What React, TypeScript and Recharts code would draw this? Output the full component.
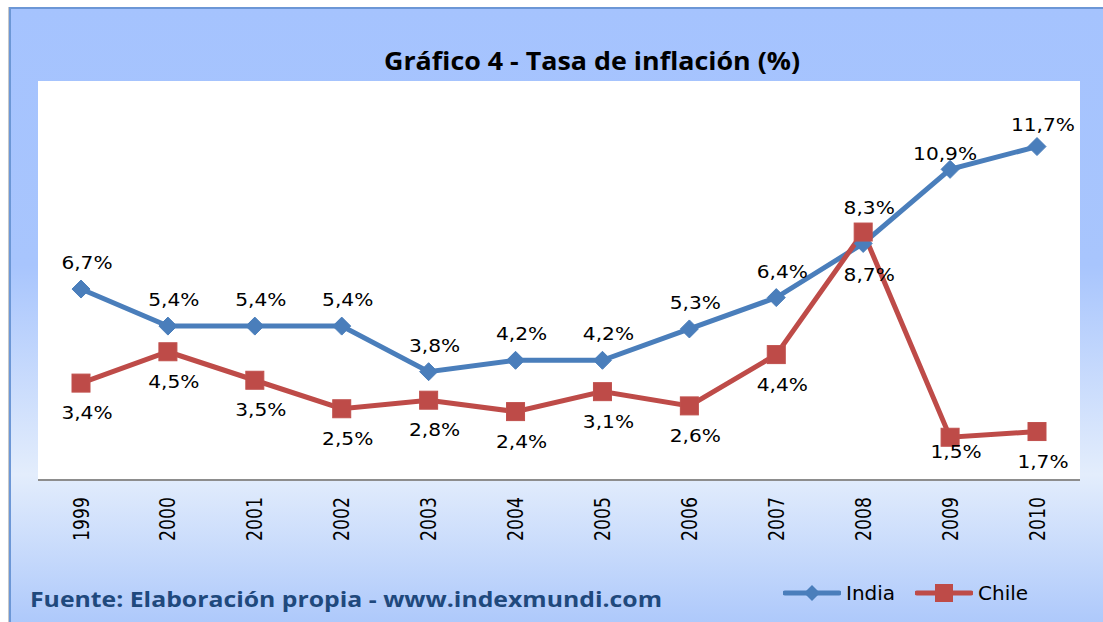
import React from 'react';
import { CartesianGrid, LabelList, Legend, Line, LineChart, XAxis, YAxis } from 'recharts';

const years = ['1999', '2000', '2001', '2002', '2003', '2004', '2005', '2006', '2007', '2008', '2009', '2010'];
const india = [6.7, 5.4, 5.4, 5.4, 3.8, 4.2, 4.2, 5.3, 6.4, 8.3, 10.9, 11.7];
const chile = [3.4, 4.5, 3.5, 2.5, 2.8, 2.4, 3.1, 2.6, 4.4, 8.7, 1.5, 1.7];

const data = years.map((year, i) => ({ year, india: india[i], chile: chile[i] }));

const BLUE = '#4a7ebb';
const RED = '#be4b48';
const FONT = '"DejaVu Sans", Verdana, sans-serif';

const fmt = (v: number) => `${v.toFixed(1).replace('.', ',')}%`;

const diamondPath = (cx: number, cy: number, r: number) =>
  `M${cx},${cy - r} L${cx + r},${cy} L${cx},${cy + r} L${cx - r},${cy} Z`;

const IndiaDot = (p: any) => (
  <path key={`in-${p.index}`} d={diamondPath(p.cx, p.cy, 9)} fill={BLUE} stroke={BLUE} strokeWidth={1} />
);
const ChileDot = (p: any) => (
  <rect key={`ch-${p.index}`} x={p.cx - 9} y={p.cy - 9} width={18} height={18} fill={RED} stroke="#c0504d" strokeWidth={1} />
);

// label offsets roughly follow the Excel placement (India above, Chile below)
function makeLabel(side: 'above' | 'below') {
  return (p: any) => {
    const { x, y, value, index } = p;
    let dx = 6;
    let dy = side === 'above' ? -26 : 30;
    if (side === 'above' && index === 9) dy = -36;
    if (side === 'above' && index === 10) { dy = -15; dx = -5; }
    if (side === 'above' && index === 11) dy = -22;
    if (side === 'below' && index === 9) dy = 43;
    if (side === 'below' && index === 10) dy = 15;
    return (
      <text
        key={`${side}-${index}`}
        transform={`translate(${x + dx},${y + dy}) scale(1.12,1)`}
        textAnchor="middle"
        dominantBaseline="central"
        fontSize={18}
        fontFamily={FONT}
        fill="#000"
      >
        {fmt(value)}
      </text>
    );
  };
}

const YearTick = (p: any) => {
  const { x, y, payload } = p;
  return (
    <g transform={`translate(${x},${y + 9}) rotate(-90)`}>
      <text
        x={0}
        y={0}
        textAnchor="end"
        dominantBaseline="central"
        fontSize={22}
        fontFamily={FONT}
        textLength={44}
        lengthAdjust="spacingAndGlyphs"
        fill="#000"
      >
        {payload.value}
      </text>
    </g>
  );
};

const LegendContent = (props: any) => {
  const order = ['india', 'chile'];
  const items = [...(props.payload || [])].sort(
    (a: any, b: any) => order.indexOf(a.dataKey) - order.indexOf(b.dataKey)
  );
  return (
    <div style={{ display: 'flex', alignItems: 'center', fontFamily: FONT, fontSize: 20, color: '#000' }}>
      {items.map((it: any) => {
        const isIndia = it.dataKey === 'india';
        return (
          <div key={it.value} style={{ display: 'flex', alignItems: 'center', marginRight: isIndia ? 20 : 0 }}>
            <svg width={58} height={20} style={{ display: 'block' }}>
              <line x1={2} y1={10} x2={56} y2={10} stroke={it.color} strokeWidth={5} strokeLinecap="round" />
              {isIndia ? (
                <path d={diamondPath(29, 10, 8)} fill={BLUE} />
              ) : (
                <rect x={20} y={1} width={18} height={18} fill={RED} />
              )}
            </svg>
            <span style={{ marginLeft: 5 }}>{it.value}</span>
          </div>
        );
      })}
    </div>
  );
};

export default function App() {
  return (
    <div
      style={{
        position: 'absolute',
        left: 9,
        top: 7,
        width: 1094,
        height: 615,
        background: 'linear-gradient(to bottom, #a5c3fe 0%, #a8c5fd 42%, #e3edfc 76%, #aec9fb 100%)',
        boxShadow: 'inset 2px 2px 0 #6c97d6, -1px 0 0 #c8c8c8',
        overflow: 'hidden',
      }}
    >
      <svg width={1094} height={615} style={{ position: 'absolute', left: 0, top: 0 }}>
        <text x={583} y={63} textAnchor="middle" fontFamily='"Open Sans", sans-serif' fontWeight={700} fontSize={25}
          textLength={416} lengthAdjust="spacingAndGlyphs" fill="#000">
          Gráfico 4 - Tasa de inflación (%)
        </text>
        <text x={21} y={600} fontFamily='"Open Sans", sans-serif' fontWeight={700} fontSize={21}
          textLength={632} lengthAdjust="spacingAndGlyphs" fill="#1f497d">
          Fuente: Elaboración propia - www.indexmundi.com
        </text>
      </svg>
      <div style={{ position: 'absolute', left: 0, top: 0 }}>
        <LineChart width={1094} height={615} data={data} margin={{ top: 74, right: 23, left: 29, bottom: 0 }}>
          <CartesianGrid horizontal={false} vertical={false} fill="#ffffff" stroke="none" />
          <XAxis
            dataKey="year"
            interval={0}
            padding={{ left: 43, right: 43 }}
            tickLine={false}
            axisLine={{ stroke: '#8d8d8d', strokeWidth: 2 }}
            height={142}
            tick={YearTick}
          />
          <YAxis hide domain={[0, 14]} />
          <Legend
            layout="horizontal"
            verticalAlign="middle"
            align="center"
            content={LegendContent}
            wrapperStyle={{ top: 574, left: 774, width: 300 }}
          />
          <Line
            dataKey="india"
            name="India"
            stroke={BLUE}
            strokeWidth={5}
            dot={IndiaDot}
            activeDot={false}
            isAnimationActive={false}
          >
            <LabelList dataKey="india" content={makeLabel('above')} />
          </Line>
          <Line
            dataKey="chile"
            name="Chile"
            stroke={RED}
            strokeWidth={5}
            dot={ChileDot}
            activeDot={false}
            isAnimationActive={false}
          >
            <LabelList dataKey="chile" content={makeLabel('below')} />
          </Line>
        </LineChart>
      </div>
    </div>
  );
}
